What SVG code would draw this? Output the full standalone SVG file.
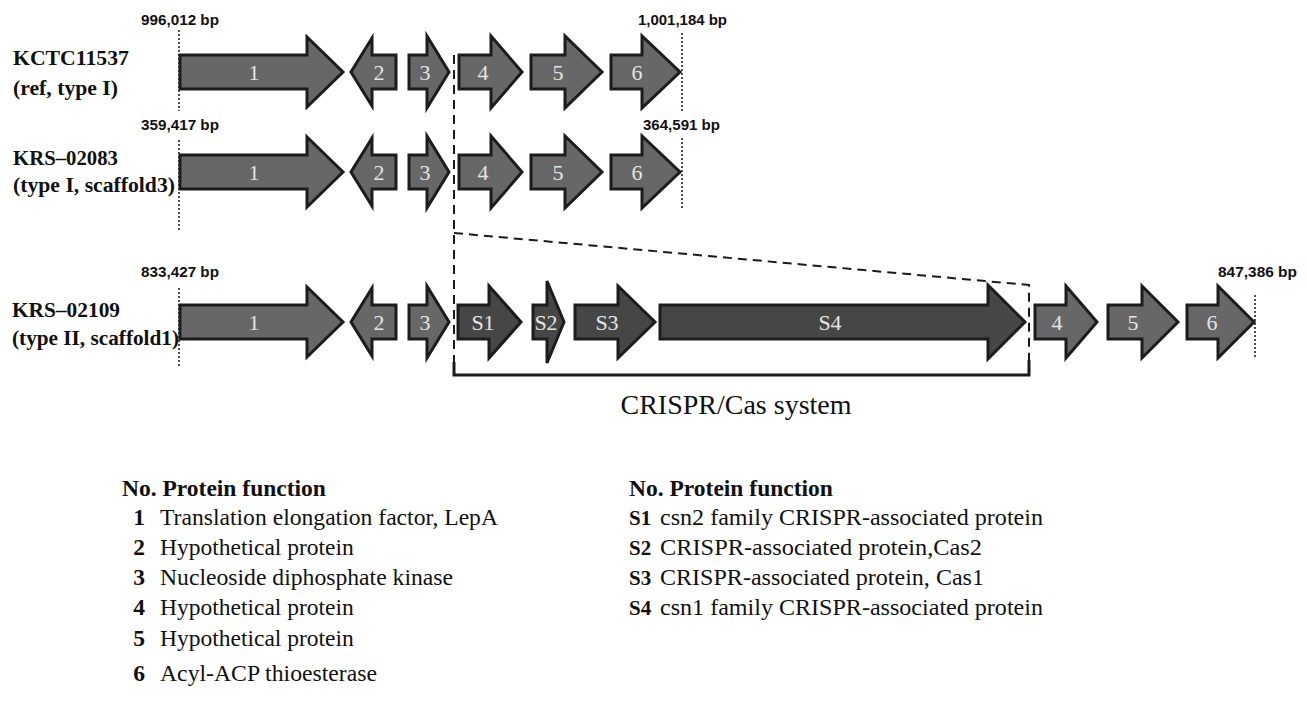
<svg xmlns="http://www.w3.org/2000/svg" width="1307" height="702" viewBox="0 0 1307 702">
<defs>
<style>
.g{fill:#676767;stroke:#1c1c1c;stroke-width:3;stroke-linejoin:miter}
.s{fill:#464646;stroke:#1c1c1c;stroke-width:3;stroke-linejoin:miter}
.al{font-family:"Liberation Serif","Times New Roman",serif;font-size:22px;fill:#e4e4e4;text-anchor:middle}
.bp{font-family:"Liberation Sans",Arial,sans-serif;font-size:15px;font-weight:bold;fill:#111}
.rl{font-family:"Liberation Serif","Times New Roman",serif;font-size:22px;font-weight:bold;fill:#111}
.hd{font-family:"Liberation Serif","Times New Roman",serif;font-size:23.5px;font-weight:bold;fill:#111}
.sn{font-family:"Liberation Serif","Times New Roman",serif;font-size:21px;font-weight:bold;fill:#111}
.lt{font-family:"Liberation Serif","Times New Roman",serif;font-size:23.5px;fill:#111}
.dot{stroke:#222;stroke-width:1.6;stroke-dasharray:2 2;fill:none}
.dash{stroke:#1a1a1a;stroke-width:2;stroke-dasharray:9 6;fill:none}
</style>
</defs>
<rect width="1307" height="702" fill="#fff"/>

<g id="row-labels">
<text class="rl" x="13" y="65" textLength="116" lengthAdjust="spacingAndGlyphs">KCTC11537</text>
<text class="rl" x="13" y="95" textLength="105" lengthAdjust="spacingAndGlyphs">(ref, type I)</text>
<text class="rl" x="13" y="165" textLength="105" lengthAdjust="spacingAndGlyphs">KRS–02083</text>
<text class="rl" x="13" y="192" textLength="162" lengthAdjust="spacingAndGlyphs">(type I, scaffold3)</text>
<text class="rl" x="12" y="317" textLength="108" lengthAdjust="spacingAndGlyphs">KRS–02109</text>
<text class="rl" x="12" y="345" textLength="167" lengthAdjust="spacingAndGlyphs">(type II, scaffold1)</text>
</g>

<g id="bp-labels">
<text class="bp" x="141" y="25" textLength="78" lengthAdjust="spacingAndGlyphs">996,012 bp</text>
<text class="bp" x="638" y="25" textLength="89" lengthAdjust="spacingAndGlyphs">1,001,184 bp</text>
<text class="bp" x="141" y="130" textLength="78" lengthAdjust="spacingAndGlyphs">359,417 bp</text>
<text class="bp" x="643" y="130" textLength="77" lengthAdjust="spacingAndGlyphs">364,591 bp</text>
<text class="bp" x="141" y="277" textLength="78" lengthAdjust="spacingAndGlyphs">833,427 bp</text>
<text class="bp" x="1218" y="277" textLength="79" lengthAdjust="spacingAndGlyphs">847,386 bp</text>
</g>

<g id="boundaries">
<line class="dot" x1="179" y1="30" x2="179" y2="111"/>
<line class="dot" x1="682" y1="33" x2="682" y2="113"/>
<line class="dot" x1="179" y1="140" x2="179" y2="232"/>
<line class="dot" x1="682" y1="138" x2="682" y2="208"/>
<line class="dot" x1="179" y1="288" x2="179" y2="368"/>
<line class="dot" x1="1255" y1="295" x2="1255" y2="358"/>
</g>

<g id="connectors">
<path class="dash" d="M454,55 V362"/>
<path class="dash" d="M454,233 L1029,285 V360"/>
<path d="M454,362 V375 H1029 V360" fill="none" stroke="#1a1a1a" stroke-width="3"/>
</g>

<g id="row1">
<g id="r1-g1"><path class="g" d="M180,55 H307 V37 L343,72 L307,107 V89 H180 Z"/><text class="al" x="254" y="80">1</text></g>
<g id="r1-g2"><path class="g" d="M396,55 H372 V38 L351,72 L372,106 V89 H396 Z"/><text class="al" x="379" y="80">2</text></g>
<g id="r1-g3"><path class="g" d="M409,55 H427 V36 L449,72 L427,108 V89 H409 Z"/><text class="al" x="425" y="80">3</text></g>
<g id="r1-g4"><path class="g" d="M459,55 H491 V36 L522,72 L491,108 V89 H459 Z"/><text class="al" x="483" y="80">4</text></g>
<g id="r1-g5"><path class="g" d="M531,55 H565 V36 L602,72 L565,108 V89 H531 Z"/><text class="al" x="558" y="80">5</text></g>
<g id="r1-g6"><path class="g" d="M611,55 H642 V36 L680,72 L642,108 V89 H611 Z"/><text class="al" x="637" y="80">6</text></g>
</g>

<g id="row2">
<g id="r2-g1"><path class="g" d="M180,155 H307 V137 L343,172 L307,207 V189 H180 Z"/><text class="al" x="254" y="180">1</text></g>
<g id="r2-g2"><path class="g" d="M396,155 H372 V138 L351,172 L372,206 V189 H396 Z"/><text class="al" x="379" y="180">2</text></g>
<g id="r2-g3"><path class="g" d="M409,155 H427 V136 L449,172 L427,208 V189 H409 Z"/><text class="al" x="425" y="180">3</text></g>
<g id="r2-g4"><path class="g" d="M459,155 H491 V136 L522,172 L491,208 V189 H459 Z"/><text class="al" x="483" y="180">4</text></g>
<g id="r2-g5"><path class="g" d="M531,155 H565 V136 L602,172 L565,208 V189 H531 Z"/><text class="al" x="558" y="180">5</text></g>
<g id="r2-g6"><path class="g" d="M611,155 H642 V136 L680,172 L642,208 V189 H611 Z"/><text class="al" x="637" y="180">6</text></g>
</g>

<g id="row3">
<g id="r3-g1"><path class="g" d="M180,305 H307 V287 L343,322 L307,357 V339 H180 Z"/><text class="al" x="254" y="330">1</text></g>
<g id="r3-g2"><path class="g" d="M396,305 H372 V288 L351,322 L372,356 V339 H396 Z"/><text class="al" x="379" y="330">2</text></g>
<g id="r3-g3"><path class="g" d="M409,305 H427 V286 L449,322 L427,358 V339 H409 Z"/><text class="al" x="425" y="330">3</text></g>
<g id="r3-s1"><path class="s" d="M458,305 H489 V286 L521,322 L489,358 V339 H458 Z"/><text class="al" x="483" y="330">S1</text></g>
<g id="r3-s2"><path class="s" d="M533,305 H547 V281 L564,322 L547,363 V339 H533 Z"/><text class="al" x="546" y="330">S2</text></g>
<g id="r3-s3"><path class="s" d="M575,305 H618 V286 L655,322 L618,358 V339 H575 Z"/><text class="al" x="607" y="330">S3</text></g>
<g id="r3-s4"><path class="s" d="M660,305 H988 V285 L1025,322 L988,359 V339 H660 Z"/><text class="al" x="830" y="330">S4</text></g>
<g id="r3-g4"><path class="g" d="M1035,305 H1066 V286 L1097,322 L1066,358 V339 H1035 Z"/><text class="al" x="1057" y="330">4</text></g>
<g id="r3-g5"><path class="g" d="M1108,305 H1142 V286 L1178,322 L1142,358 V339 H1108 Z"/><text class="al" x="1133" y="330">5</text></g>
<g id="r3-g6"><path class="g" d="M1187,305 H1218 V286 L1254,322 L1218,358 V339 H1187 Z"/><text class="al" x="1212" y="330">6</text></g>
</g>

<g id="crispr-label">
<text x="736" y="414" text-anchor="middle" font-family="'Liberation Serif','Times New Roman',serif" font-size="28" fill="#111">CRISPR/Cas system</text>
</g>

<g id="legend-left">
<text class="hd" x="122" y="496">No. Protein function</text>
<text class="hd" x="139" y="525" text-anchor="middle">1</text>
<text class="lt" x="160" y="525" textLength="338" lengthAdjust="spacingAndGlyphs">Translation elongation factor, LepA</text>
<text class="hd" x="139" y="555" text-anchor="middle">2</text>
<text class="lt" x="160" y="555">Hypothetical protein</text>
<text class="hd" x="139" y="585" text-anchor="middle">3</text>
<text class="lt" x="160" y="585" textLength="293" lengthAdjust="spacingAndGlyphs">Nucleoside diphosphate kinase</text>
<text class="hd" x="139" y="615" text-anchor="middle">4</text>
<text class="lt" x="160" y="615">Hypothetical protein</text>
<text class="hd" x="139" y="646" text-anchor="middle">5</text>
<text class="lt" x="160" y="646">Hypothetical protein</text>
<text class="hd" x="139" y="681" text-anchor="middle">6</text>
<text class="lt" x="160" y="681" textLength="217" lengthAdjust="spacingAndGlyphs">Acyl-ACP thioesterase</text>
</g>

<g id="legend-right">
<text class="hd" x="629" y="496">No. Protein function</text>
<text class="sn" x="629" y="525">S1</text>
<text class="lt" x="660" y="525" textLength="383" lengthAdjust="spacingAndGlyphs">csn2 family CRISPR-associated protein</text>
<text class="sn" x="629" y="555">S2</text>
<text class="lt" x="660" y="555" textLength="322" lengthAdjust="spacingAndGlyphs">CRISPR-associated protein,Cas2</text>
<text class="sn" x="629" y="585">S3</text>
<text class="lt" x="660" y="585" textLength="324" lengthAdjust="spacingAndGlyphs">CRISPR-associated protein, Cas1</text>
<text class="sn" x="629" y="615">S4</text>
<text class="lt" x="660" y="615" textLength="383" lengthAdjust="spacingAndGlyphs">csn1 family CRISPR-associated protein</text>
</g>
</svg>
